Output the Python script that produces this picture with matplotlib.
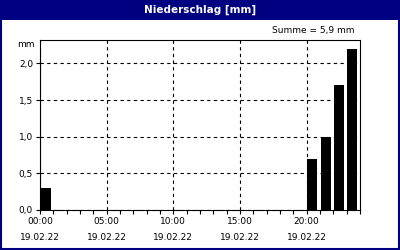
import matplotlib
matplotlib.use('Agg')
from matplotlib import pyplot as plt
from matplotlib.patches import Rectangle

# hourly precipitation on 19.02.22
hours = [0, 20, 21, 22, 23]
precip = [0.3, 0.7, 1.0, 1.7, 2.2]
total = 5.9
xtick_hours = [0, 5, 10, 15, 20]
xtick_labels = ['00:00\n19.02.22', '05:00\n19.02.22', '10:00\n19.02.22',
                '15:00\n19.02.22', '20:00\n19.02.22']
ytick_vals = [0.0, 0.5, 1.0, 1.5, 2.0]
ytick_labels = ['0,0', '0,5', '1,0', '1,5', '2,0']

navy = '#000080'
plt.rcParams['font.family'] = 'DejaVu Sans'

fig = plt.figure(figsize=(4, 2.5), dpi=100)
fig.patch.set_facecolor('white')

# title bar and frame
fig.patches.append(Rectangle((0, 230/250), 1, 20/250, transform=fig.transFigure,
                             facecolor=navy, edgecolor='none', zorder=0))
fig.patches.append(Rectangle((0.0025, 0.004), 0.995, 0.992, transform=fig.transFigure,
                             facecolor='none', edgecolor=navy, linewidth=1.5, zorder=5))
fig.text(0.5, 240/250, 'Niederschlag [mm]', color='white', fontsize=7.5,
         fontweight='bold', ha='center', va='center')
fig.text(355/400, 1 - 31/250, 'Summe = %s mm' % str(total).replace('.', ','),
         fontsize=6.5, ha='right', va='center')
fig.text(35/400, 1 - 45/250, 'mm', fontsize=6.5, ha='right', va='center')

ax = fig.add_axes([40/400, 40/250, 320/400, 170/250])
ax.bar([h + 0.05 for h in hours], precip, width=0.75, align='edge',
       color='black', zorder=3)

ax.set_xlim(0, 24)
ax.set_ylim(0, 2.32)
ax.set_xticks(xtick_hours)
ax.set_xticklabels(xtick_labels, fontsize=6.5, linespacing=2.0)
ax.set_xticks(range(25), minor=True)
ax.set_yticks(ytick_vals)
ax.set_yticklabels(ytick_labels, fontsize=6.5)
ax.tick_params(axis='both', which='both', direction='out', length=3, width=0.8,
               color='black', pad=2)
ax.grid(True, which='major', color='black', linestyle=(0, (3, 3)), linewidth=0.8)
for s in ax.spines.values():
    s.set_linewidth(0.8)
    s.set_color('black')

fig.savefig('out.png', dpi=100)
